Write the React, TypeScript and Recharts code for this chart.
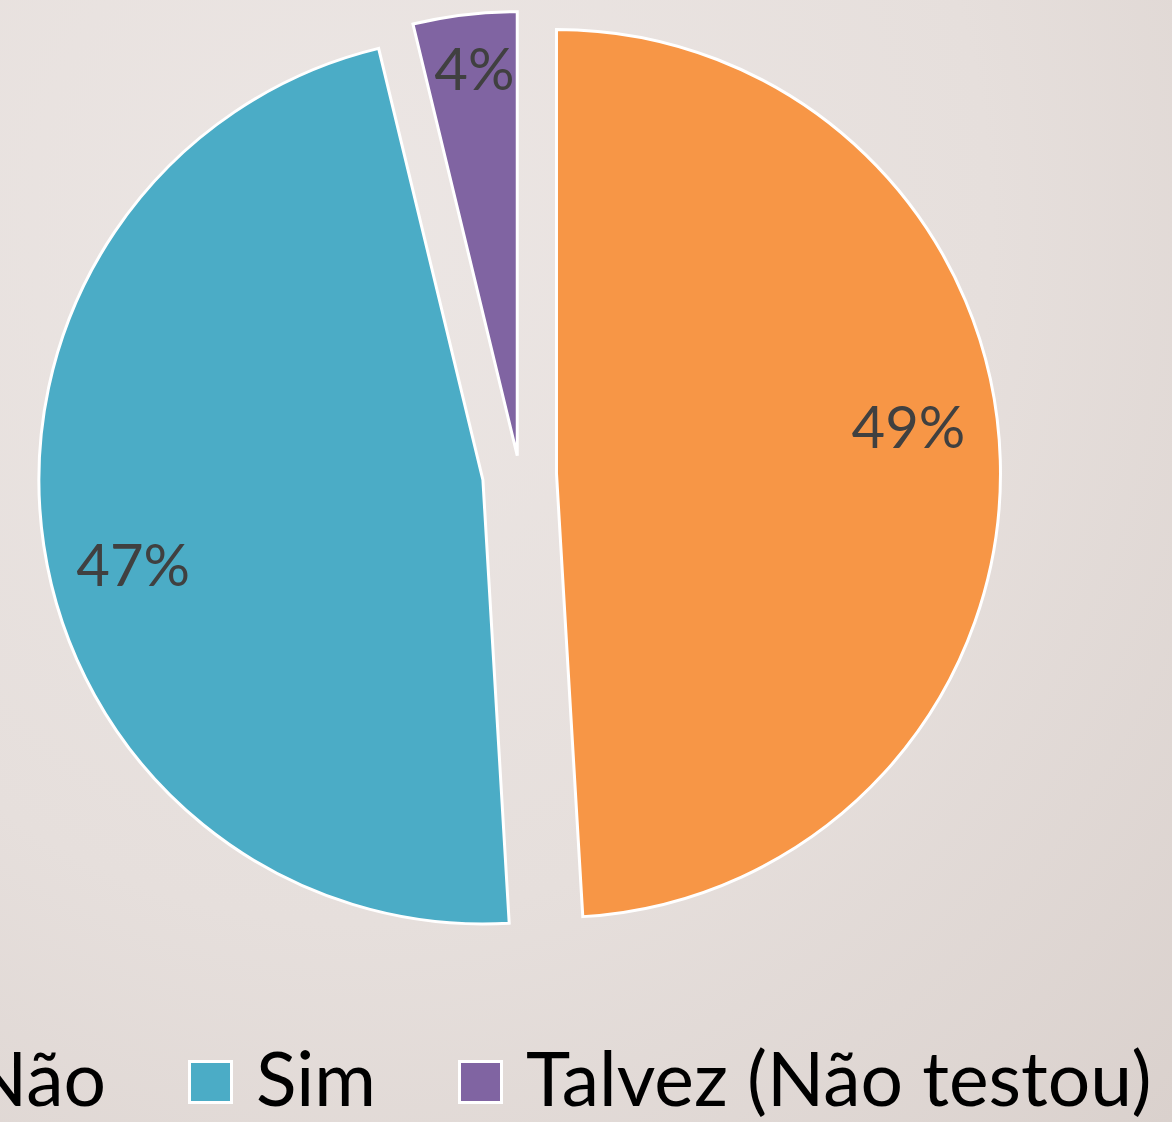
import React from "react";
import { PieChart, Pie, Cell, Legend } from "recharts";

// survey answers
const NAMES = ["Não", "Sim", "Talvez (Não testou)"];
const COUNTS = [26, 25, 2];
const COLORS = ["#F79646", "#4BACC6", "#8064A2"];

const WIDTH = 1172;
const HEIGHT = 1122;
const CX = 519.5;
const CY = 474.5;
const RADIUS = 444;
const FONT = "Lato, 'Open Sans', sans-serif";

// how far each slice is pulled out (px) and where its % label sits
const EXPLODE = [37, 37, 19];
const LABEL_R = [0.8, 0.81, 0.88];
const LABEL_NUDGE = [6, 5, -0.5];

const RADIAN = Math.PI / 180;

const data = NAMES.map((name, i) => ({ name, value: COUNTS[i] }));

const total = COUNTS.reduce((a, b) => a + b, 0);
let cum = 0;
const midAngles = COUNTS.map((v) => {
  const m = 90 - (360 * (cum + v / 2)) / total;
  cum += v;
  return m;
});

function makeLabel(own: number) {
  return (props: any) => {
    const { cx, cy, midAngle, outerRadius, index, percent } = props;
    if (index !== own) return null;
    const r = outerRadius * LABEL_R[index];
    const a = (midAngle + LABEL_NUDGE[index]) * RADIAN;
    const x = cx + r * Math.cos(-a);
    const y = cy + r * Math.sin(-a);
    return (
      <text
        x={x}
        y={y}
        fill="#404040"
        textAnchor="middle"
        dominantBaseline="central"
        style={{ fontSize: 58, fontFamily: FONT }}
      >
        {`${(percent * 100).toFixed(0)}%`}
      </text>
    );
  };
}

const renderLegend = () => (
  <div style={{ display: "flex", alignItems: "center", whiteSpace: "nowrap" }}>
    {NAMES.map((name, i) => (
      <div
        key={name}
        style={{ display: "flex", alignItems: "center", marginRight: 82 }}
      >
        <span
          style={{
            display: "inline-block",
            flex: "none",
            boxSizing: "border-box",
            width: 45,
            height: 44,
            background: COLORS[i],
            border: "3px solid #fff",
            marginRight: 23,
            marginTop: 10,
          }}
        />
        <span style={{ fontSize: 75, fontFamily: FONT, color: "#000", lineHeight: "90px" }}>
          {name}
        </span>
      </div>
    ))}
  </div>
);

export default function App() {
  return (
    <div
      style={{
        position: "absolute",
        left: 0,
        top: 0,
        width: WIDTH,
        height: HEIGHT,
        overflow: "hidden",
        background:
          "radial-gradient(ellipse at 30% 20%, #ECE6E4 0%, #E6DFDC 55%, #DAD1CD 100%)",
      }}
    >
      <PieChart width={WIDTH} height={HEIGHT} margin={{ top: 0, right: 0, bottom: 0, left: 0 }}>
        {COUNTS.map((_, i) => (
          <Pie
            key={i}
            data={data}
            dataKey="value"
            nameKey="name"
            cx={CX + EXPLODE[i] * Math.cos(midAngles[i] * RADIAN)}
            cy={CY - EXPLODE[i] * Math.sin(midAngles[i] * RADIAN)}
            outerRadius={RADIUS}
            startAngle={90}
            endAngle={-270}
            label={makeLabel(i)}
            labelLine={false}
            isAnimationActive={false}
            legendType="none"
          >
            {data.map((entry, j) => (
              <Cell
                key={`cell-${j}`}
                fill={j === i ? COLORS[j] : "none"}
                stroke={j === i ? "#fff" : "none"}
                strokeWidth={3}
              />
            ))}
          </Pie>
        ))}
        <Legend
          content={renderLegend}
          wrapperStyle={{ left: -98, top: 1032, width: 1400, bottom: "auto" }}
        />
      </PieChart>
    </div>
  );
}
